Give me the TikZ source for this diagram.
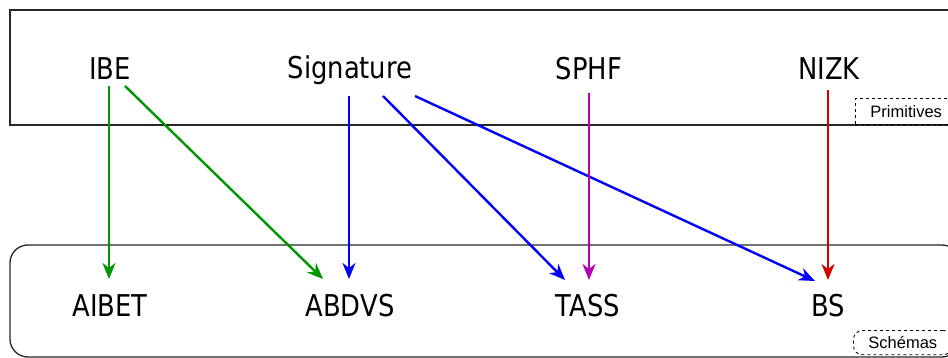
\documentclass[tikz,border=0pt]{standalone}
\usepackage{fontspec}
\setmainfont{DejaVu Sans}[FakeStretch=0.86]
\newfontfamily\labfont{Liberation Sans}
\usetikzlibrary{arrows.meta}
\definecolor{cgreen}{RGB}{0,150,0}
\definecolor{cblue}{RGB}{0,0,250}
\definecolor{cpurple}{RGB}{180,0,180}
\definecolor{cred}{RGB}{210,0,0}
\tikzset{
  lbl/.style={inner sep=0pt, anchor=base, font=\fontsize{30}{36}\selectfont},
  conn/.style={line width=2.4pt, -{Stealth[length=16pt,width=13pt,inset=5pt]}},
  frame/.style={draw=black!85, line width=1.3pt},
  tag/.style={draw=black, dashed, line width=0.9pt, font=\labfont\fontsize{16.5}{19}\selectfont, inner xsep=15pt, inner ysep=7pt, anchor=south west}
}
\begin{document}
\begin{tikzpicture}[x=1pt,y=-1pt]
\useasboundingbox (0,0) rectangle (948,358);
\clip (0,0) rectangle (948,358);
% frames
\draw[frame] (10,10) rectangle (980,125);
\draw[frame, rounded corners=18pt] (10,245) rectangle (960,357);
\node[tag] (prim) at (855,125) {Primitives};
\node[tag, rounded corners=9pt, anchor=north west, inner ysep=6pt] (sch) at (853,330) {Schémas};
% top nodes
\node[lbl] (ibe) at (110,80) {IBE};
\node[lbl] (sig) at (350,79) {Signature};
\node[lbl] (sphf) at (589,80) {SPHF};
\node[lbl] (nizk) at (829,80) {NIZK};
% bottom nodes
\node[lbl] (aibet) at (110,316) {AIBET};
\node[lbl] (abdvs) at (350,316) {ABDVS};
\node[lbl] (tass) at (588,316) {TASS};
\node[lbl] (bs) at (828,316) {BS};
% connectors
\draw[conn, cgreen] ([xshift=-1pt,yshift=-6pt]ibe.base) -- ([xshift=-1pt,yshift=37pt]aibet.base);
\draw[conn, cgreen] ([xshift=15pt,yshift=-6pt]ibe.base) -- ([xshift=-27pt,yshift=37pt]abdvs.base);
\draw[conn, cblue] ([xshift=-1pt,yshift=-17pt]sig.base) -- ([xshift=-1pt,yshift=37pt]abdvs.base);
\draw[conn, cblue] ([xshift=33pt,yshift=-17pt]sig.base) -- ([xshift=-23pt,yshift=36pt]tass.base);
\draw[conn, cblue] ([xshift=65pt,yshift=-17pt]sig.base) -- ([xshift=-13pt,yshift=35pt]bs.base);
\draw[conn, cpurple] ([xshift=0pt,yshift=-13pt]sphf.base) -- ([xshift=1pt,yshift=36pt]tass.base);
\draw[conn, cred] ([xshift=-1pt,yshift=-10pt]nizk.base) -- ([xshift=0pt,yshift=36pt]bs.base);
\end{tikzpicture}
\end{document}
